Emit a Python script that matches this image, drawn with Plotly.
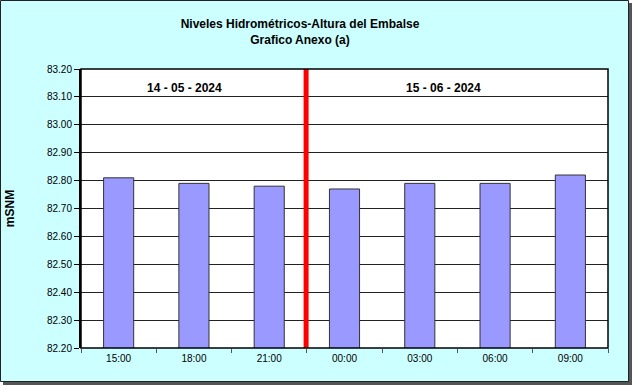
import plotly.graph_objects as go

categories = ["15:00", "18:00", "21:00", "00:00", "03:00", "06:00", "09:00"]
levels = [82.81, 82.79, 82.78, 82.77, 82.79, 82.79, 82.82]
y_ticks = [82.20, 82.30, 82.40, 82.50, 82.60, 82.70, 82.80, 82.90, 83.00, 83.10, 83.20]
y_tick_labels = [f"{v:.2f}" for v in y_ticks]
date_left = "14 - 05 - 2024"
date_right = "15 - 06 - 2024"
title_text = "Niveles Hidrométricos-Altura del Embalse<br>Grafico Anexo (a)"

W, H = 633, 386
ml, mr, mt, mb = 81, 25, 69, 38
pw, ph = W - ml - mr, H - mt - mb

def px_x(x):
    return (x - ml) / pw

def px_y(y):
    return (H - mb - y) / ph

fig = go.Figure()
fig.add_trace(go.Bar(
    x=categories, y=levels, width=0.4,
    marker=dict(color="#9999FF", line=dict(color="#333333", width=1)),
))

shapes = [
    dict(type="rect", xref="paper", yref="paper",
         x0=px_x(3), x1=px_x(632), y0=px_y(3), y1=px_y(385),
         line=dict(width=0), fillcolor="#555555", layer="below"),
    dict(type="rect", xref="paper", yref="paper",
         x0=px_x(0.5), x1=px_x(628.5), y0=px_y(0.5), y1=px_y(381.5),
         line=dict(color="#222222", width=1), fillcolor="#CCFFFF", layer="below"),
    dict(type="rect", xref="paper", yref="paper", x0=0, x1=1, y0=0, y1=1,
         line=dict(width=0), fillcolor="white", layer="below"),
    dict(type="line", xref="x", yref="paper", x0=2.49, x1=2.49, y0=0, y1=1,
         line=dict(color="#FF0000", width=5)),
    dict(type="rect", xref="paper", yref="paper", x0=0, x1=1, y0=0, y1=1,
         line=dict(color="black", width=1.5)),
]

fig.update_layout(
    width=W, height=H,
    margin=dict(l=ml, r=mr, t=mt, b=mb, pad=0, autoexpand=False),
    paper_bgcolor="rgba(0,0,0,0)",
    plot_bgcolor="rgba(0,0,0,0)",
    font=dict(family="Arial, Liberation Sans, sans-serif", size=10, color="black"),
    showlegend=False,
    bargap=0.6,
    title=dict(text=title_text, x=300 / W, xref="container", xanchor="center",
               y=1 - 28 / H, yanchor="top", automargin=False,
               font=dict(size=12, color="black", family="Arial, Liberation Sans, sans-serif", weight="bold")),
    xaxis=dict(type="category", tickson="boundaries", ticks="outside", ticklen=4,
               tickcolor="#555555", showgrid=False, showline=False, automargin=False,
               tickfont=dict(size=10), range=[-0.5, 6.5], ticklabelstandoff=3),
    yaxis=dict(range=[82.2, 83.2], tickvals=y_ticks, ticktext=y_tick_labels,
               ticks="outside", ticklen=5, tickcolor="black", automargin=False,
               showgrid=True, gridcolor="#222222", gridwidth=1,
               showline=True, linecolor="black", linewidth=2,
               zeroline=False, tickfont=dict(size=10),
               title=dict(text="<b>mSNM</b>", font=dict(size=12), standoff=30)),
    shapes=shapes,
    annotations=[
        dict(text=f"<b>{date_left}</b>", x=0.88, xref="x", y=px_y(88), yref="paper",
             showarrow=False, font=dict(size=12), xanchor="center", yanchor="middle"),
        dict(text=f"<b>{date_right}</b>", x=4.32, xref="x", y=px_y(88), yref="paper",
             showarrow=False, font=dict(size=12), xanchor="center", yanchor="middle"),
    ],
)

fig.write_html("out.html", config={"displayModeBar": False},
               post_script="document.body.style.margin='0';document.body.style.overflow='hidden';")
